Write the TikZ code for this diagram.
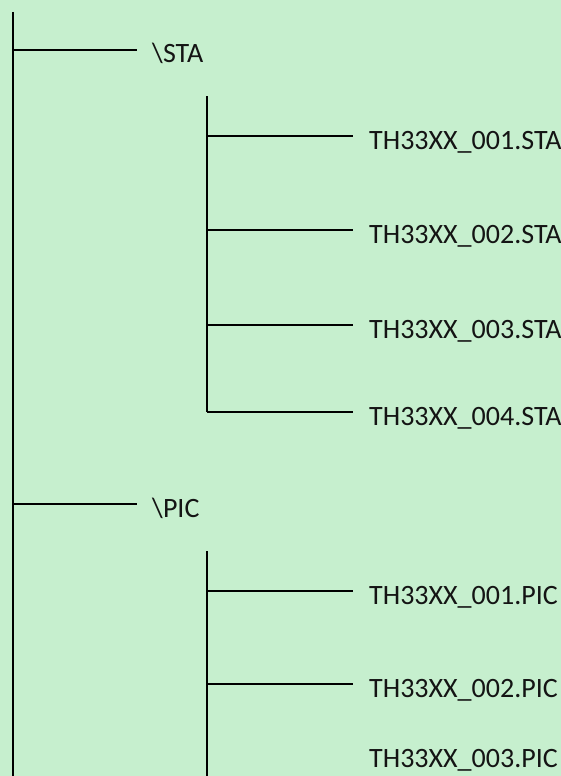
\documentclass[tikz,border=0pt]{standalone}
\usepackage{fontspec}
\setmainfont{Carlito}
\definecolor{bggreen}{HTML}{C6EFCE}
\definecolor{txt}{HTML}{141414}
\begin{document}
\begin{tikzpicture}[x=1pt,y=-1pt,
  branch/.style={line width=2.2pt,black},
  label/.style={anchor=base west,inner sep=0pt,text=txt,font=\fontsize{28}{31}\selectfont}]
\fill[bggreen] (0,0) rectangle (561,776);
\useasboundingbox (0,0) rectangle (561,776);
% main trunk
\coordinate (rootTop) at (13,12);
\coordinate (rootBot) at (13,776);
\draw[branch] (rootTop) -- (rootBot);
% STA folder
\coordinate (staJ) at (13,50);
\coordinate (staE) at (137,50);
\node[label] (sta) at (152,63) {\textbackslash STA};
\draw[branch] (staJ) -- (staE);
\coordinate (staTop) at (207,96);
\coordinate (staBot) at (207,412);
\draw[branch] (staTop) -- (staBot);
\foreach \i/\y in {1/136,2/230,3/325,4/412}{
  \coordinate (sj\i) at (207,\y);
  \coordinate (se\i) at (353,\y);
  \draw[branch] (sj\i) -- (se\i);
  \node[label] (sf\i) at (369,\y+13) {TH33XX\_00\i.STA};
}
% PIC folder
\coordinate (picJ) at (13,504);
\coordinate (picE) at (137,504);
\node[label] (pic) at (152,517) {\textbackslash PIC};
\draw[branch] (picJ) -- (picE);
\coordinate (picTop) at (207,551);
\coordinate (picBot) at (207,776);
\draw[branch] (picTop) -- (picBot);
\foreach \i/\y in {1/591,2/684}{
  \coordinate (pj\i) at (207,\y);
  \coordinate (pe\i) at (353,\y);
  \draw[branch] (pj\i) -- (pe\i);
  \node[label] (pf\i) at (369,\y+13) {TH33XX\_00\i.PIC};
}
\node[label] (pf3) at (369,767) {TH33XX\_003.PIC};
\end{tikzpicture}
\end{document}
